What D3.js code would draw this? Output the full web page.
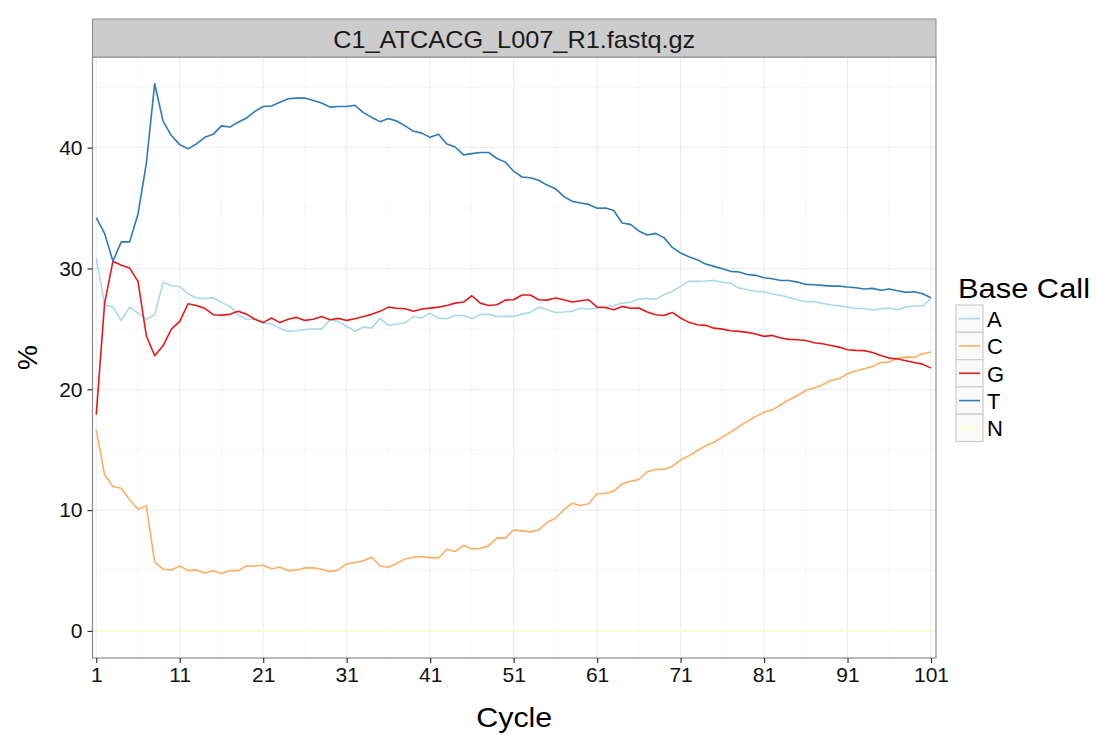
<!DOCTYPE html>
<html>
<head>
<meta charset="utf-8">
<script src="https://cdn.jsdelivr.net/npm/d3@7"></script>
<style>
  html, body { margin: 0; padding: 0; background: #fff; }
  svg text { font-family: "Liberation Sans", Arial, sans-serif; }
</style>
</head>
<body>
<svg id="chart" width="1098" height="735"></svg>
<script>
// Per-cycle base composition (%) for each base call
const cycles = d3.range(1, 102);
const baseA = [30.86,27.0,26.8,25.67,26.8,26.3,25.8,26.17,28.85,28.57,28.5,27.9,27.55,27.5,27.57,27.19,26.86,26.17,25.8,25.8,25.48,25.4,25.06,24.79,24.85,24.95,24.98,24.98,25.76,25.62,25.2,24.8,25.15,25.06,25.87,25.29,25.4,25.5,26.03,25.9,26.3,25.9,25.84,26.1,26.1,25.84,26.2,26.2,26.03,26.03,26.03,26.22,26.36,26.8,26.58,26.36,26.39,26.45,26.7,26.64,26.72,26.8,26.94,27.13,27.19,27.47,27.52,27.44,27.83,28.1,28.52,28.93,28.93,28.96,29.01,28.85,28.79,28.38,28.24,28.1,28.08,27.88,27.77,27.6,27.41,27.25,27.25,27.11,26.97,26.92,26.8,26.69,26.69,26.56,26.67,26.72,26.58,26.8,26.89,26.89,27.5];
const baseC = [16.65,12.92,11.95,11.81,10.85,10.08,10.35,5.69,5.11,5.05,5.38,4.99,5.05,4.78,4.99,4.75,4.99,4.99,5.38,5.38,5.44,5.14,5.27,4.99,5.05,5.22,5.22,5.11,4.91,5.05,5.55,5.66,5.8,6.1,5.38,5.27,5.58,5.96,6.1,6.16,6.07,6.04,6.76,6.57,7.09,6.79,6.82,7.04,7.7,7.68,8.36,8.28,8.2,8.36,8.97,9.33,10.02,10.57,10.38,10.52,11.35,11.37,11.57,12.17,12.39,12.53,13.17,13.36,13.39,13.61,14.16,14.49,14.93,15.32,15.62,16.04,16.45,16.92,17.34,17.75,18.11,18.3,18.72,19.13,19.49,19.9,20.1,20.37,20.73,20.87,21.28,21.53,21.7,21.89,22.22,22.25,22.58,22.66,22.64,22.94,23.08];
const baseG = [17.9,27.13,30.6,30.26,30.03,28.93,24.43,22.77,23.6,24.98,25.62,27.08,26.94,26.7,26.17,26.14,26.2,26.45,26.22,25.8,25.52,25.9,25.52,25.8,25.95,25.7,25.8,26.03,25.76,25.87,25.7,25.84,26.03,26.2,26.45,26.8,26.7,26.67,26.45,26.64,26.72,26.8,26.94,27.13,27.22,27.74,27.13,26.94,27.0,27.38,27.41,27.8,27.8,27.41,27.38,27.55,27.41,27.22,27.33,27.41,26.8,26.77,26.58,26.86,26.7,26.72,26.39,26.17,26.1,26.36,25.9,25.54,25.34,25.29,25.06,24.98,24.84,24.79,24.71,24.57,24.38,24.46,24.24,24.13,24.1,24.04,23.85,23.77,23.63,23.49,23.27,23.22,23.2,23.05,22.8,22.58,22.5,22.36,22.22,22.08,21.75];
const baseT = [34.2,32.9,30.6,32.2,32.2,34.5,38.7,45.3,42.2,41.0,40.25,39.9,40.3,40.85,41.1,41.8,41.7,42.1,42.45,43.0,43.4,43.45,43.75,44.05,44.1,44.1,43.9,43.7,43.35,43.4,43.4,43.5,42.9,42.5,42.15,42.4,42.2,41.8,41.35,41.2,40.85,41.1,40.3,40.05,39.4,39.5,39.6,39.6,39.1,38.8,38.05,37.57,37.5,37.3,36.9,36.6,35.97,35.56,35.42,35.3,34.98,35.0,34.8,33.76,33.65,33.1,32.77,32.9,32.55,31.75,31.28,30.97,30.72,30.36,30.17,29.98,29.76,29.7,29.5,29.43,29.23,29.15,29.0,29.0,28.87,28.68,28.65,28.6,28.54,28.54,28.46,28.4,28.3,28.35,28.2,28.3,28.16,28.02,28.07,27.9,27.58];
const baseN = [0,0,0,0,0,0,0,0,0,0,0,0,0,0,0,0,0,0,0,0,0,0,0,0,0,0,0,0,0,0,0,0,0,0,0,0,0,0,0,0,0,0,0,0,0,0,0,0,0,0,0,0,0,0,0,0,0,0,0,0,0,0,0,0,0,0,0,0,0,0,0,0,0,0,0,0,0,0,0,0,0,0,0,0,0,0,0,0,0,0,0,0,0,0,0,0,0,0,0,0,0];

const baseNames = ["A", "C", "G", "T", "N"];
const baseColors = ["#abd9e9", "#fdae61", "#e31a1c", "#2c7bb6", "#ffffbf"];
const xTicks = [1, 11, 21, 31, 41, 51, 61, 71, 81, 91, 101];
const yTicks = [0, 10, 20, 30, 40];
const panelTitle = "C1_ATCACG_L007_R1.fastq.gz";

const seriesList = [
  { name: "A", values: baseA },
  { name: "C", values: baseC },
  { name: "G", values: baseG },
  { name: "T", values: baseT },
  { name: "N", values: baseN }
];

const svg = d3.select("#chart");
const panel = { left: 92.5, right: 936, top: 57, bottom: 658 };
const strip = { top: 19, bottom: 57 };

const x = d3.scaleLinear().domain([0.55, 101.6]).range([panel.left, panel.right]);
const y = d3.scaleLinear().domain([-2.24, 47.5]).range([panel.bottom, panel.top]);
const color = d3.scaleOrdinal().domain(baseNames).range(baseColors);

// panel background
svg.append("rect")
  .attr("x", panel.left).attr("y", panel.top)
  .attr("width", panel.right - panel.left).attr("height", panel.bottom - panel.top)
  .attr("fill", "#fff");

// minor grid
const grid = svg.append("g");
const xMinor = xTicks.slice(0, -1).map(d => d + 5);
const yMinor = [5, 15, 25, 35, 45];
grid.selectAll(".xminor").data(xMinor).enter().append("line")
  .attr("x1", d => x(d)).attr("x2", d => x(d))
  .attr("y1", panel.top).attr("y2", panel.bottom)
  .attr("stroke", "#f7f7f7").attr("stroke-width", 1);
grid.selectAll(".yminor").data(yMinor).enter().append("line")
  .attr("x1", panel.left).attr("x2", panel.right)
  .attr("y1", d => y(d)).attr("y2", d => y(d))
  .attr("stroke", "#f7f7f7").attr("stroke-width", 1);
// major grid
grid.selectAll(".xmajor").data(xTicks).enter().append("line")
  .attr("x1", d => x(d)).attr("x2", d => x(d))
  .attr("y1", panel.top).attr("y2", panel.bottom)
  .attr("stroke", "#ebebeb").attr("stroke-width", 1);
grid.selectAll(".ymajor").data(yTicks).enter().append("line")
  .attr("x1", panel.left).attr("x2", panel.right)
  .attr("y1", d => y(d)).attr("y2", d => y(d))
  .attr("stroke", "#ebebeb").attr("stroke-width", 1);

// series lines
const line = d3.line()
  .x((d, i) => x(cycles[i]))
  .y(d => y(d));
svg.append("g").selectAll("path").data(seriesList).enter().append("path")
  .attr("d", d => line(d.values))
  .attr("fill", "none")
  .attr("stroke", d => color(d.name))
  .attr("stroke-width", 1.6)
  .attr("stroke-linejoin", "round");

// panel border
svg.append("rect")
  .attr("x", panel.left).attr("y", panel.top)
  .attr("width", panel.right - panel.left).attr("height", panel.bottom - panel.top)
  .attr("fill", "none").attr("stroke", "#8c8c8c").attr("stroke-width", 1.2);

// strip
svg.append("rect")
  .attr("x", panel.left).attr("y", strip.top)
  .attr("width", panel.right - panel.left).attr("height", strip.bottom - strip.top)
  .attr("fill", "#cccccc").attr("stroke", "#8c8c8c").attr("stroke-width", 1);
svg.append("text")
  .attr("x", (panel.left + panel.right) / 2).attr("y", (strip.top + strip.bottom) / 2 + 1)
  .attr("text-anchor", "middle").attr("dominant-baseline", "central")
  .attr("font-size", 24).attr("fill", "#1a1a1a")
  .attr("textLength", 362).attr("lengthAdjust", "spacingAndGlyphs")
  .text(panelTitle);

// axes
const xAxis = d3.axisBottom(x).tickValues(xTicks).tickSize(5).tickPadding(4).tickFormat(d3.format("d"));
const yAxis = d3.axisLeft(y).tickValues(yTicks).tickSize(5).tickPadding(5).tickFormat(d3.format("d"));
const gx = svg.append("g").attr("transform", `translate(0,${panel.bottom})`).call(xAxis);
const gy = svg.append("g").attr("transform", `translate(${panel.left},0)`).call(yAxis);
[gx, gy].forEach(g => {
  g.select(".domain").remove();
  g.selectAll(".tick line").attr("stroke", "#333").attr("stroke-width", 1.2);
  g.selectAll(".tick text").attr("font-size", 21).attr("fill", "#111")
    .attr("font-family", "Liberation Sans, Arial, sans-serif");
});

// axis titles
svg.append("text")
  .attr("x", (panel.left + panel.right) / 2).attr("y", 727)
  .attr("text-anchor", "middle").attr("font-size", 28).attr("fill", "#000")
  .attr("textLength", 76).attr("lengthAdjust", "spacingAndGlyphs")
  .text("Cycle");
svg.append("text")
  .attr("transform", `translate(37,${(panel.top + panel.bottom) / 2}) rotate(-90)`)
  .attr("text-anchor", "middle").attr("font-size", 28).attr("fill", "#000")
  .text("%");

// legend
const legend = svg.append("g").attr("transform", "translate(956,0)");
legend.append("text")
  .attr("x", 2).attr("y", 298)
  .attr("font-size", 28).attr("fill", "#000")
  .attr("textLength", 132).attr("lengthAdjust", "spacingAndGlyphs")
  .text("Base Call");
const keyH = 27.3, keyW = 27, keyTop = 305;
const items = legend.selectAll(".key").data(baseNames).enter().append("g")
  .attr("transform", (d, i) => `translate(0,${keyTop + i * keyH})`);
items.append("rect")
  .attr("width", keyW).attr("height", keyH)
  .attr("fill", "#fafafa").attr("stroke", "#cccccc").attr("stroke-width", 1.2);
items.append("line")
  .attr("x1", 3).attr("x2", keyW - 3)
  .attr("y1", keyH / 2).attr("y2", keyH / 2)
  .attr("stroke", d => color(d)).attr("stroke-width", 1.6);
items.append("text")
  .attr("x", keyW + 4).attr("y", keyH / 2 + 1)
  .attr("dominant-baseline", "central")
  .attr("font-size", 22).attr("fill", "#000")
  .text(d => d);
</script>
</body>
</html>
